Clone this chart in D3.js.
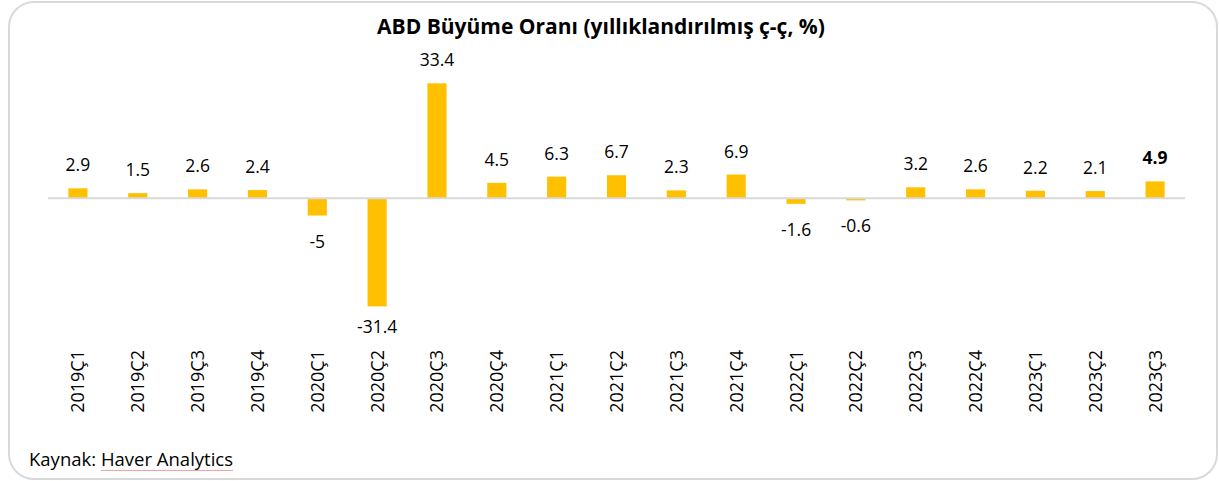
<!DOCTYPE html>
<html>
<head>
<meta charset="utf-8">
<script src="https://cdn.jsdelivr.net/npm/d3@7"></script>
<style>
  html, body { margin: 0; padding: 0; background: #fff; }
  svg { display: block; }
  text { font-family: "Open Sans", "Noto Sans", sans-serif; fill: #000; }
</style>
</head>
<body>
<svg id="chart" width="1219" height="481"></svg>
<script>
const categories = ["2019Ç1","2019Ç2","2019Ç3","2019Ç4","2020Ç1","2020Ç2","2020Ç3","2020Ç4",
  "2021Ç1","2021Ç2","2021Ç3","2021Ç4","2022Ç1","2022Ç2","2022Ç3","2022Ç4","2023Ç1","2023Ç2","2023Ç3"];
const growth = [2.9, 1.5, 2.6, 2.4, -5, -31.4, 33.4, 4.5, 6.3, 6.7, 2.3, 6.9, -1.6, -0.6, 3.2, 2.6, 2.2, 2.1, 4.9];
const titleText = "ABD Büyüme Oranı (yıllıklandırılmış ç-ç, %)";
const sourceText = "Kaynak: Haver Analytics";

const svg = d3.select("#chart");

// frame
svg.append("rect")
  .attr("x", 9).attr("y", 2).attr("width", 1208).attr("height", 477)
  .attr("rx", 25).attr("ry", 25)
  .attr("fill", "#fff").attr("stroke", "#d9d9d9").attr("stroke-width", 2);

const x = d3.scaleBand().domain(categories).range([48, 1185]).paddingInner(0.68).paddingOuter(0.34);
const y = d3.scaleLinear().domain([-35, 40]).range([318.8, 60.6]);

const data = categories.map((c, i) => ({ c, v: growth[i], last: i === categories.length - 1 }));

// bars
svg.append("g").selectAll("rect").data(data).join("rect")
  .attr("x", d => x(d.c))
  .attr("width", x.bandwidth())
  .attr("y", d => y(Math.max(0, d.v)))
  .attr("height", d => Math.abs(y(d.v) - y(0)))
  .attr("fill", "#FFC000");

// zero axis line
svg.append("line")
  .attr("x1", 48).attr("x2", 1185)
  .attr("y1", y(0)).attr("y2", y(0))
  .attr("stroke", "#d9d9d9").attr("stroke-width", 2);

// value labels
svg.append("g").selectAll("text").data(data).join("text")
  .attr("x", d => x(d.c) + x.bandwidth() / 2)
  .attr("y", d => d.v >= 0 ? y(d.v) - 17 : Math.min(y(d.v) + 32, 333))
  .attr("text-anchor", "middle")
  .attr("font-size", 17.5)
  .attr("font-weight", d => d.last ? "bold" : "normal")
  .text(d => d.v);

// category axis labels (rotated)
const xAxis = d3.axisBottom(x).tickSize(0).tickPadding(0);
const gx = svg.append("g").call(xAxis);
gx.select(".domain").remove();
gx.selectAll(".tick").attr("transform", d => `translate(${x(d) + x.bandwidth() / 2},350)`);
gx.selectAll("text")
  .attr("transform", "rotate(-90)")
  .attr("x", 0).attr("y", 0).attr("dy", "0.36em")
  .attr("text-anchor", "end")
  .attr("font-size", 18)
  .attr("font-family", "'Open Sans', sans-serif")
  .attr("fill", "#000");

// title
svg.append("text")
  .attr("x", 601).attr("y", 34)
  .attr("text-anchor", "middle")
  .attr("font-size", 21)
  .attr("font-weight", "bold")
  .text(titleText);

// source
const src = svg.append("text")
  .attr("x", 29).attr("y", 466)
  .attr("font-size", 18.5)
  .text(sourceText);

// spell-check style underline under "Haver Analytics"
const node = src.node();
const start = sourceText.indexOf("Haver");
const x0 = 29 + node.getSubStringLength(0, start);
const x1 = 29 + node.getComputedTextLength();
svg.append("line")
  .attr("x1", x0).attr("x2", x1)
  .attr("y1", 470.5).attr("y2", 470.5)
  .attr("stroke", "#f2a3a3").attr("stroke-width", 1);
</script>
</body>
</html>
